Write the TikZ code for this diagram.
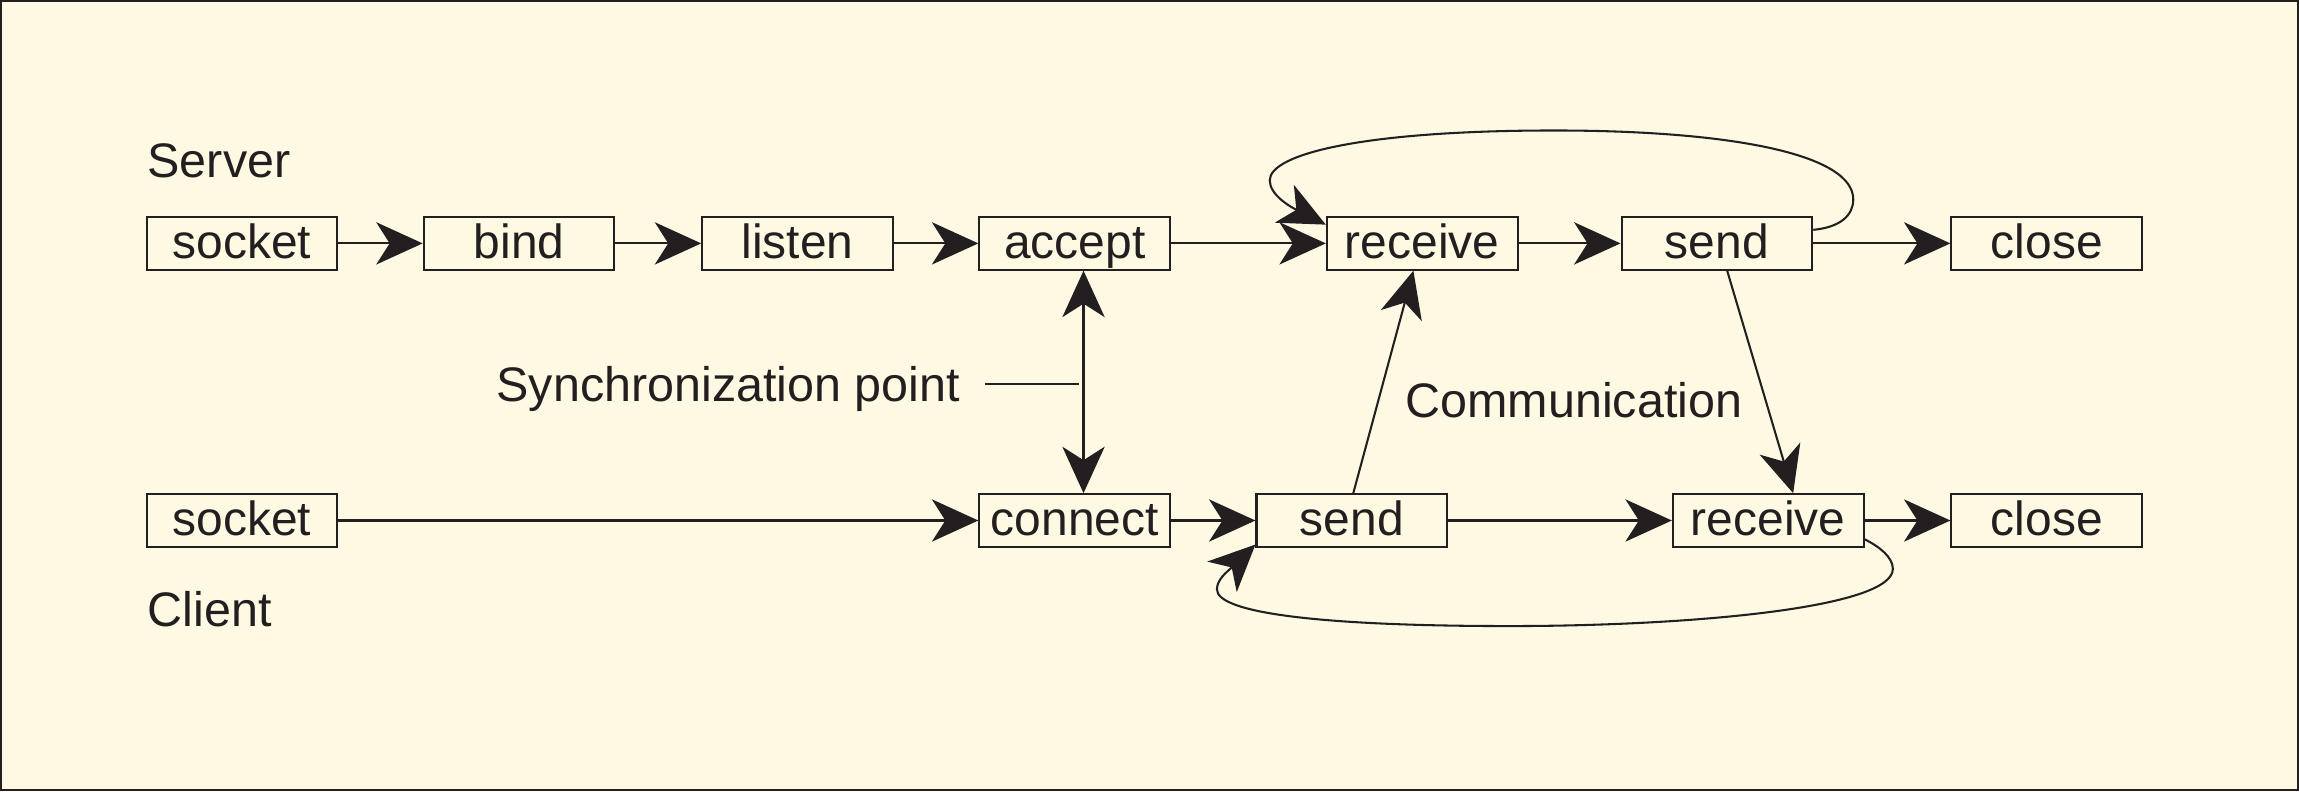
\documentclass[tikz,border=0pt]{standalone}
\usepackage{fontspec}
\setmainfont{Liberation Sans}
\usetikzlibrary{arrows.meta,calc}

\definecolor{paper}{HTML}{FEF9E3}
\definecolor{ink}{HTML}{231F20}

\tikzset{
	call/.style={draw=ink, text=ink, minimum width=1.3cm, inner sep=0pt,
		text height=8.1pt, text depth=2.1pt, font=\fontsize{9.3}{11}\selectfont},
	flow/.style={draw=ink, ->},
	lbl/.style={text=ink, inner sep=0pt, font=\fontsize{9.4}{11}\selectfont}
}

\begin{document}
\begin{tikzpicture}[x=0.01cm, y=-0.01cm, >={Stealth[length=9pt,width=8.2pt,inset=2.6pt]}]
	\path[use as bounding box] (0,0) rectangle (1568,539.5);
	\draw[ink, fill=paper] (0.7,0.7) rectangle (1567.3,538.8);

	% server side
	\node[call] (sSock)		at (165,166)	{socket};
	\node[call] (sBind)		at (354,166)	{bind};
	\node[call] (sList)		at (544,166)	{listen};
	\node[call] (sAcc)		at (733,166)	{accept};
	\node[call] (sRecv)		at (970,166)	{receive};
	\node[call] (sSend)		at (1171,166)	{send};
	\node[call] (sClose)	at (1396,166)	{close};

	% client side
	\node[call] (cSock)		at (165,355)	{socket};
	\node[call] (cConn)		at (733,355)	{connect};
	\node[call] (cSend)		at (922,355)	{send};
	\node[call] (cRecv)		at (1206,355)	{receive};
	\node[call] (cClose)	at (1396,355)	{close};

	\node[lbl, anchor=base west] (server)	at (100,121)	{Server};
	\node[lbl, anchor=base west] (client)	at (100,427)	{Client};
	\node[lbl, anchor=base west] (sync)		at (338,274)	{Synchronization point};
	\node[lbl, anchor=base west] (comm)		at (958,285)	{Communication};
	\coordinate (syncEnd) at (736,262);

	\draw[flow]		(sSock)		-- (sBind);
	\draw[flow]		(sBind)		-- (sList);
	\draw[flow]		(sList)		-- (sAcc);
	\draw[flow]		(sAcc)		-- (sRecv);
	\draw[flow]		(sRecv)		-- (sSend);
	\draw[flow]		(sSend)		-- (sClose);

	\draw[flow]		(cSock)		-- (cConn);
	\draw[flow]		(cConn)		-- (cSend);
	\draw[flow]		(cSend)		-- (cRecv);
	\draw[flow]		(cRecv)		-- (cClose);

	\draw[ink, <->]	([xshift=0.06cm]sAcc.south)		-- ([xshift=0.06cm]cConn.north);
	\draw[ink]		([xshift=0.16cm]sync.east |- syncEnd)	-- (syncEnd);
	\draw[flow]		([xshift=0.01cm]cSend.north)	-- ([xshift=-0.06cm]sRecv.south);
	\draw[flow]		([xshift=0.07cm]sSend.south)	-- ([xshift=0.17cm]cRecv.north);

	% loops
	\draw[flow] (sSend.8) .. controls (1255,155) and (1264,147) .. (1264,136)
		.. controls (1264,105) and (1180,89) .. (1060,89)
		.. controls (930,89) and (866,105) .. (866,123)
		.. controls (866,133) and (880,141) .. (sRecv.169);
	\draw[flow] (cRecv.-11) .. controls (1282,373) and (1291,380) .. (1291,388)
		.. controls (1291,415) and (1150,427) .. (1030,427)
		.. controls (900,427) and (830,418) .. (830,402)
		.. controls (830,395) and (837,390) .. (cSend.194);
\end{tikzpicture}
\end{document}
